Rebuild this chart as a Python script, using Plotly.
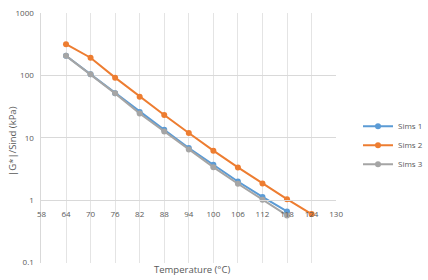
import plotly.graph_objects as go

temps1 = [64, 70, 76, 82, 88, 94, 100, 106, 112, 118]
sims1 = [209, 105, 52, 26, 13.5, 6.9, 3.7, 2.0, 1.13, 0.66]
temps2 = [64, 70, 76, 82, 88, 94, 100, 106, 112, 118, 124]
sims2 = [320, 194, 93, 46, 23.3, 12, 6.25, 3.37, 1.86, 1.04, 0.6]
temps3 = [64, 70, 76, 82, 88, 94, 100, 106, 112, 118]
sims3 = [208, 105, 52, 24.7, 12.7, 6.5, 3.4, 1.84, 1.02, 0.57]

x_ticks = list(range(58, 131, 6))
y_ticks = [0.1, 1, 10, 100, 1000]
y_ticktext = ["0.1", "1", "10", "100", "1000"]

W, H = 428, 280
x0, x1 = 39.3 / W, 357 / W
yb, yt = 1 - 267 / H, 1 - 7.7 / H

fig = go.Figure()
series = [("Sims 1", temps1, sims1, "#5B9BD5"),
          ("Sims 2", temps2, sims2, "#ED7D31"),
          ("Sims 3", temps3, sims3, "#A5A5A5")]
for name, xs, ys, c in series:
    fig.add_trace(go.Scatter(x=xs, y=ys, name=name, mode="lines+markers",
                             line=dict(color=c, width=2),
                             marker=dict(color=c, size=6)))

grid = "#E4E4E4"
fig.update_layout(
    width=W, height=H, margin=dict(l=0, r=0, t=0, b=0),
    paper_bgcolor="white", plot_bgcolor="white",
    font=dict(family="Open Sans, Liberation Sans, sans-serif", size=8, color="#595959"),
    xaxis=dict(domain=[x0, x1], range=[58, 130], tickvals=x_ticks,
               showgrid=True, gridcolor=grid, gridwidth=1, zeroline=False,
               showline=True, linecolor="#D9D9D9", ticks="",
               ticklabelstandoff=6,
               anchor="free", position=yb + 0.25 * (yt - yb),
               tickfont=dict(size=8, color="#595959")),
    yaxis=dict(domain=[yb, yt], type="log", range=[-1, 3], tickvals=y_ticks,
               ticktext=y_ticktext, showgrid=True, gridcolor="#D9D9D9",
               zeroline=False, showline=True, linecolor="#D9D9D9", ticks="",
               ticklabelstandoff=5,
               tickfont=dict(size=8, color="#595959")),
    legend=dict(x=381 / W, y=1 - 110 / H, xanchor="left", yanchor="top",
                font=dict(size=8, color="#595959"), tracegroupgap=0,
                itemwidth=30, bgcolor="rgba(0,0,0,0)"),
    annotations=[
        dict(text="Temperature (°C)", x=202 / W, y=1 - 274 / H, xref="paper", yref="paper",
             showarrow=False, xanchor="center", yanchor="middle",
             font=dict(size=9.5, color="#595959")),
        dict(text="|G*|/Sind (kPa)", x=8 / W, y=1 - 140 / H, xref="paper", yref="paper",
             showarrow=False, textangle=-90, xanchor="center", yanchor="middle",
             font=dict(size=9.5, color="#595959")),
    ],
)
fig.write_html("out.html")
